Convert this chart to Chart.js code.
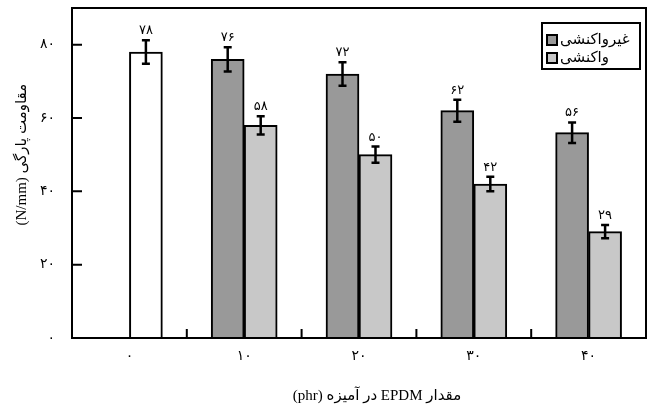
<!DOCTYPE html>
<html>
<head>
<meta charset="utf-8">
<script src="https://cdn.jsdelivr.net/npm/chart.js@4.4.1/dist/chart.umd.min.js"></script>
<style>
html,body{margin:0;padding:0;background:#ffffff;}
#wrap{width:651px;height:413px;}
</style>
</head>
<body>
<div id="wrap"><canvas id="c" dir="rtl" width="651" height="413"></canvas></div>
<script>
// ---- data ----
const categories = ['۰', '۱۰', '۲۰', '۳۰', '۴۰'];
const yTickValues = [0, 20, 40, 60, 80];
const seriesNames = ['غیرواکنشی', 'واکنشی'];
const pureValues = [78, null, null, null, null];
const pureErrors = [3.2, null, null, null, null];
const nonReactiveValues = [null, 76, 72, 62, 56];
const nonReactiveErrors = [null, 3.3, 3.2, 3.0, 2.8];
const reactiveValues = [null, 58, 50, 42, 29];
const reactiveErrors = [null, 2.5, 2.2, 2.0, 1.8];
const xTitle = 'مقدار EPDM در آمیزه (phr)';
const yTitle = 'مقاومت پارگی (N/mm)';

const FONT = "'Liberation Serif', 'DejaVu Sans', serif";
const faDigits = '۰۱۲۳۴۵۶۷۸۹';
function toFa(n) { return String(n).replace(/[0-9]/g, d => faDigits[+d]); }

const decor = {
  id: 'decor',
  afterDatasetsDraw(chart) {
    const ctx = chart.ctx;
    const xs = chart.scales.x, ys = chart.scales.y;
    const area = chart.chartArea;
    ctx.save();
    // error bars and value labels
    chart.data.datasets.forEach((ds, di) => {
      const meta = chart.getDatasetMeta(di);
      meta.data.forEach((el, i) => {
        const v = ds.data[i];
        if (v === null || v === undefined) return;
        const e = ds.errors[i] || 0;
        const x = el.x;
        const yt = ys.getPixelForValue(v + e);
        const yb = ys.getPixelForValue(v - e);
        ctx.strokeStyle = '#000';
        ctx.lineWidth = 2.5;
        ctx.beginPath();
        ctx.moveTo(x, yt); ctx.lineTo(x, yb);
        ctx.moveTo(x - 4, yt); ctx.lineTo(x + 4, yt);
        ctx.moveTo(x - 4, yb); ctx.lineTo(x + 4, yb);
        ctx.stroke();
        ctx.fillStyle = '#000';
        ctx.font = '13px ' + FONT;
        ctx.textAlign = 'center';
        ctx.textBaseline = 'bottom';
        ctx.fillText(toFa(v), x, yt - 3);
      });
    });
    // inward tick marks
    ctx.strokeStyle = '#000';
    ctx.lineWidth = 2;
    ctx.beginPath();
    yTickValues.forEach(v => {
      if (v === 0) return;
      const py = ys.getPixelForValue(v);
      ctx.moveTo(area.left, py); ctx.lineTo(area.left + 10, py);
    });
    for (let i = 0; i < categories.length - 1; i++) {
      const px = (xs.getPixelForTick(i) + xs.getPixelForTick(i + 1)) / 2;
      ctx.moveTo(px, area.bottom); ctx.lineTo(px, area.bottom - 9);
    }
    ctx.stroke();
    // frame
    ctx.lineWidth = 2;
    ctx.strokeRect(area.left, area.top, area.right - area.left, area.bottom - area.top);
    // legend
    const lx = 542, ly = 23, lw = 98, lh = 46;
    ctx.fillStyle = '#fff';
    ctx.fillRect(lx, ly, lw, lh);
    ctx.strokeRect(lx, ly, lw, lh);
    const legendItems = chart.data.datasets.filter(d => d.inLegend !== false);
    legendItems.forEach((d, k) => {
      const cy = ly + 17 + k * 18;
      ctx.fillStyle = d.backgroundColor;
      ctx.fillRect(lx + 5, cy - 5, 10, 10);
      ctx.lineWidth = 2;
      ctx.strokeRect(lx + 5, cy - 5, 10, 10);
      ctx.fillStyle = '#000';
      ctx.font = '15px ' + FONT;
      ctx.textAlign = 'left';
      ctx.textBaseline = 'middle';
      ctx.fillText(d.label, lx + 18, cy);
    });
    // axis titles
    ctx.fillStyle = '#000';
    ctx.font = '15px ' + FONT;
    ctx.textAlign = 'center';
    ctx.textBaseline = 'middle';
    ctx.fillText(xTitle, (area.left + area.right) / 2 + 18, 396);
    ctx.translate(22, ys.getPixelForValue(50));
    ctx.rotate(-Math.PI / 2);
    ctx.fillText(yTitle, 0, 0);
    ctx.restore();
  }
};

const chart = new Chart(document.getElementById('c').getContext('2d'), {
  type: 'bar',
  data: {
    labels: categories,
    datasets: [
      { label: seriesNames[0], data: nonReactiveValues, errors: nonReactiveErrors, backgroundColor: '#999999', stack: 'a' },
      { label: seriesNames[1], data: reactiveValues, errors: reactiveErrors, backgroundColor: '#c8c8c8', stack: 'b' },
      { label: '', data: pureValues, errors: pureErrors, backgroundColor: '#ffffff', stack: 'b', inLegend: false }
    ]
  },
  options: {
    responsive: false,
    animation: false,
    layout: { padding: { left: 0, right: 5, top: 8, bottom: 0 } },
    datasets: { bar: { barThickness: 33, borderColor: '#000', borderWidth: 2, borderSkipped: 'bottom' } },
    plugins: { legend: { display: false }, tooltip: { enabled: false } },
    scales: {
      x: {
        stacked: true,
        offset: true,
        grid: { display: false, drawTicks: false, offset: true },
        border: { display: false },
        ticks: { padding: 10, color: '#000', font: { family: FONT, size: 14 } },
        afterFit(s) { s.height = 75; s.paddingLeft = 0; s.paddingRight = 0; }
      },
      y: {
        stacked: false,
        min: 0, max: 90,
        afterBuildTicks(s) { s.ticks = yTickValues.map(v => ({ value: v })); },
        grid: { display: false, drawTicks: false },
        border: { display: false },
        ticks: { padding: 17, color: '#000', font: { family: FONT, size: 14 }, callback: v => toFa(v) },
        afterFit(s) { s.width = 72; s.paddingTop = 0; s.paddingBottom = 0; }
      }
    }
  },
  plugins: [decor]
});
</script>
</body>
</html>
